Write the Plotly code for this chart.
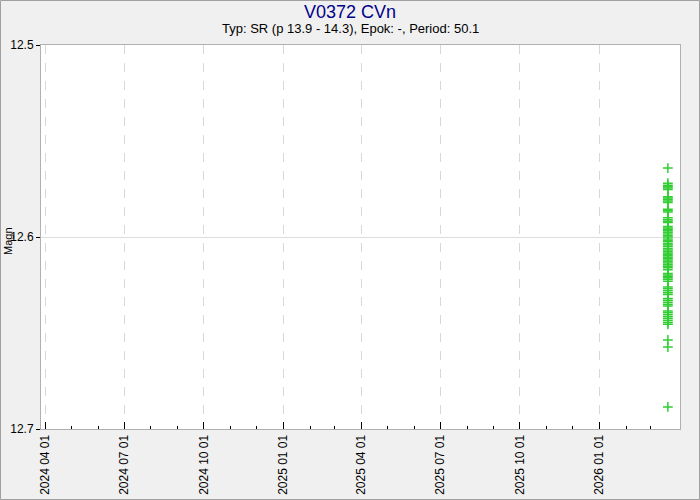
import plotly.graph_objects as go

magnitudes = [
    12.5641,
    12.5720, 12.5730, 12.5738, 12.5745, 12.5752,
    12.5790, 12.5797, 12.5805, 12.5812, 12.5820,
    12.5855, 12.5862, 12.5870,
    12.5900, 12.5910, 12.5918, 12.5925,
    12.5945, 12.5953, 12.5960, 12.5968, 12.5975, 12.5985, 12.5993, 12.6000,
    12.6010, 12.6018, 12.6025, 12.6035, 12.6042, 12.6050,
    12.6060, 12.6068, 12.6075, 12.6083, 12.6090, 12.6098, 12.6105, 12.6112,
    12.6120, 12.6128, 12.6135, 12.6145, 12.6152, 12.6160, 12.6170,
    12.6190, 12.6198, 12.6205, 12.6212, 12.6220, 12.6230,
    12.6260, 12.6270, 12.6280, 12.6290, 12.6300,
    12.6320, 12.6330, 12.6340, 12.6350, 12.6360,
    12.6385, 12.6395, 12.6405, 12.6415, 12.6425, 12.6435, 12.6445, 12.6455,
    12.6536, 12.6573, 12.6885,
]
obs_dates = ["2026-03-21"] * len(magnitudes)

title_text = "V0372 CVn"
subtitle_text = "Typ: SR (p 13.9 - 14.3), Epok: -, Period: 50.1"
y_ticks = [12.5, 12.6, 12.7]
x_major_ticks = ["2024-04-01", "2024-07-01", "2024-10-01", "2025-01-01",
                 "2025-04-01", "2025-07-01", "2025-10-01", "2026-01-01"]
x_minor_ticks = ["2024-05-01", "2024-06-01", "2024-08-01", "2024-09-01",
                 "2024-11-01", "2024-12-01", "2025-02-01", "2025-03-01",
                 "2025-05-01", "2025-06-01", "2025-08-01", "2025-09-01",
                 "2025-11-01", "2025-12-01", "2026-02-01", "2026-03-01"]
x_tick_labels = [d.replace("-", " ") for d in x_major_ticks]
x_range = ["2024-03-27", "2026-04-04"]

FONT = "Liberation Sans, Arial, sans-serif"
GREEN = "rgb(50,205,50)"

fig = go.Figure()
fig.add_trace(go.Scatter(
    x=obs_dates, y=magnitudes, mode="markers",
    marker=dict(symbol="cross-thin", size=7, color=GREEN,
                line=dict(color=GREEN, width=1.5)),
    showlegend=False, hoverinfo="x+y",
))

L, R, T, B = 41, 20, 45, 71
W, H = 700, 500
pw, ph = W - L - R, H - T - B

def px_x(px):
    return (px - L) / pw

def px_y(py):
    return 1 - (py - T) / ph

fig.update_layout(
    width=W, height=H,
    margin=dict(l=L, r=R, t=T, b=B, pad=0),
    paper_bgcolor="#f0f0f0", plot_bgcolor="white",
    font=dict(family=FONT, size=12, color="black"),
    xaxis=dict(
        type="date", range=x_range, automargin=False,
        tickvals=x_major_ticks, ticktext=x_tick_labels,
        tickangle=-90, ticks="inside", ticklen=7, tickcolor="black",
        showgrid=True, gridcolor="#d8d8d8", griddash="dash", gridwidth=1,
        minor=dict(tickvals=x_minor_ticks, ticks="inside", ticklen=3,
                   tickcolor="black", showgrid=False),
        showline=True, linecolor="#b0b0b0", mirror=True, zeroline=False,
        tickfont=dict(size=12),
    ),
    yaxis=dict(
        range=[12.7, 12.5], tickvals=y_ticks, ticktext=[str(v) for v in y_ticks],
        automargin=False,
        ticks="outside", ticklen=4, tickcolor="black",
        showgrid=True, gridcolor="#dddddd", gridwidth=1,
        showline=True, linecolor="#b0b0b0", mirror=True, zeroline=False,
        tickfont=dict(size=12),
    ),
    annotations=[
        dict(text=title_text, xref="paper", yref="paper", x=px_x(W / 2), y=px_y(12),
             showarrow=False, xanchor="center", yanchor="middle",
             font=dict(size=18, color="#00008b", family=FONT)),
        dict(text=subtitle_text, xref="paper", yref="paper", x=px_x(W / 2), y=px_y(28),
             showarrow=False, xanchor="center", yanchor="middle",
             font=dict(size=13, color="black", family=FONT)),
        dict(text="Magn", xref="paper", yref="paper", x=px_x(8), y=px_y(241),
             showarrow=False, xanchor="center", yanchor="middle", textangle=-90,
             font=dict(size=11, color="black", family=FONT)),
    ],
    shapes=[
        dict(type="rect", xref="paper", yref="paper",
             x0=px_x(0.5), x1=px_x(W - 0.5), y0=px_y(H - 0.5), y1=px_y(0.5),
             line=dict(color="#a0a0a0", width=1), fillcolor="rgba(0,0,0,0)", layer="below"),
    ],
)

fig.write_html(
    "out.html",
    config={"displayModeBar": False},
    post_script="document.body.style.margin='0';document.body.style.overflow='hidden';",
)
